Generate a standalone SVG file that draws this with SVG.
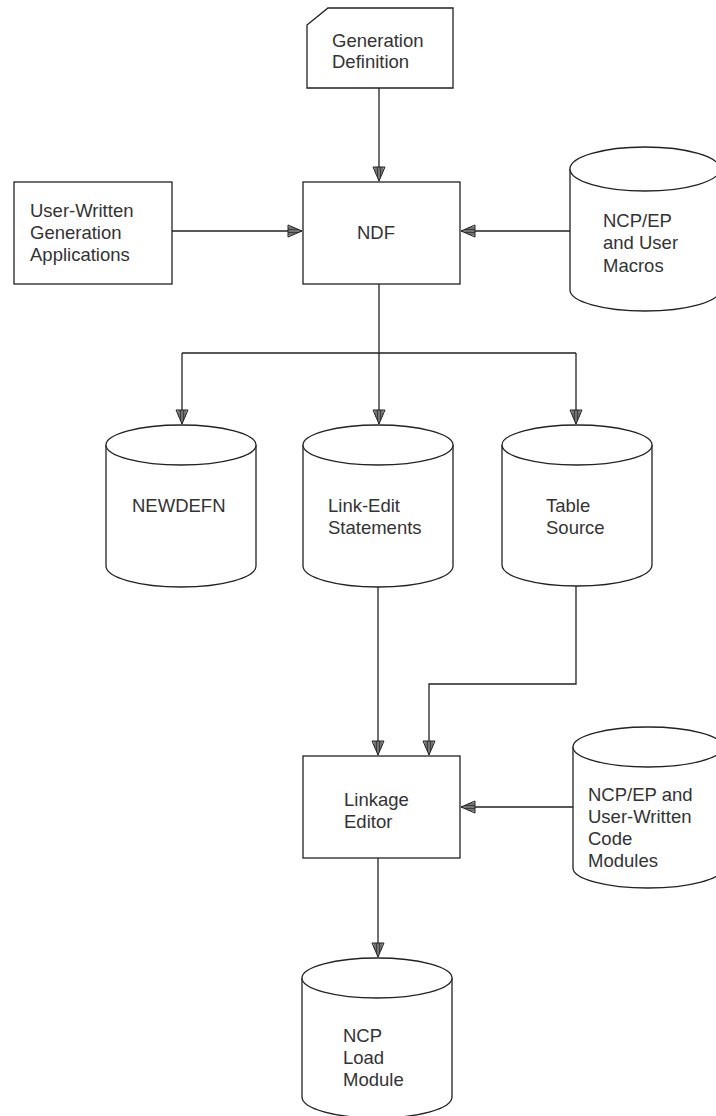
<svg xmlns="http://www.w3.org/2000/svg" width="716" height="1116" viewBox="0 0 716 1116">
<style>
.shape{fill:#fff;stroke:#222;stroke-width:1.3}
.conn{fill:none;stroke:#222;stroke-width:1.3}
text{font-family:"Liberation Sans",Arial,sans-serif;font-size:18.5px;fill:#333}
</style>
<defs>
<marker id="arr" markerUnits="userSpaceOnUse" markerWidth="16" markerHeight="14" viewBox="-1 -1 16 14" refX="14" refY="6" orient="auto">
<path d="M0,0 L14,6 L0,12 Z" fill="#aaa" stroke="#222" stroke-width="1"/>
<path d="M0,3 H7 M0,6 H13 M0,9 H7 M0,4.5 H10.5 M0,7.5 H10.5" stroke="#222" stroke-width="0.8"/>
</marker>
</defs>
<rect width="716" height="1116" fill="#fff"/>
<g id="connectors">
<path class="conn" d="M379,88 V181" marker-end="url(#arr)"/>
<path class="conn" d="M172,231 H302" marker-end="url(#arr)"/>
<path class="conn" d="M570,231 H461" marker-end="url(#arr)"/>
<path class="conn" d="M379,284 V353 M182,353 H576"/>
<path class="conn" d="M182,353 V424" marker-end="url(#arr)"/>
<path class="conn" d="M379,353 V424" marker-end="url(#arr)"/>
<path class="conn" d="M576,353 V424" marker-end="url(#arr)"/>
<path class="conn" d="M378,587 V755" marker-end="url(#arr)"/>
<path class="conn" d="M576,586 V684 H429 V755" marker-end="url(#arr)"/>
<path class="conn" d="M573,807 H461" marker-end="url(#arr)"/>
<path class="conn" d="M378,858 V957" marker-end="url(#arr)"/>
</g>
<g id="generation-definition">
<path class="shape" d="M307,25 L328,8 H453 V88 H307 Z"/>
<text x="332" y="47">Generation</text>
<text x="332" y="68">Definition</text>
</g>
<g id="user-written-apps">
<rect class="shape" x="14" y="182" width="158" height="102"/>
<text x="30" y="217">User-Written</text>
<text x="30" y="239">Generation</text>
<text x="30" y="261">Applications</text>
</g>
<g id="ndf">
<rect class="shape" x="303" y="182" width="157" height="102"/>
<text x="357" y="239">NDF</text>
</g>
<g id="ncp-ep-macros">
<path class="shape" d="M570,169 V290 A75,21 0 0 0 720,290 V169"/>
<ellipse class="shape" cx="645" cy="169" rx="75" ry="22"/>
<text x="603" y="227">NCP/EP</text>
<text x="603" y="249">and User</text>
<text x="603" y="272">Macros</text>
</g>
<g id="newdefn">
<path class="shape" d="M106,445 V566 A75,21 0 0 0 256,566 V445"/>
<ellipse class="shape" cx="181" cy="445" rx="75" ry="20"/>
<text x="132" y="512">NEWDEFN</text>
</g>
<g id="link-edit-statements">
<path class="shape" d="M303,445 V566 A75,21 0 0 0 453,566 V445"/>
<ellipse class="shape" cx="378" cy="445" rx="75" ry="20"/>
<text x="328" y="512">Link-Edit</text>
<text x="328" y="534">Statements</text>
</g>
<g id="table-source">
<path class="shape" d="M502,445 V565 A75,21 0 0 0 652,565 V445"/>
<ellipse class="shape" cx="577" cy="445" rx="75" ry="20"/>
<text x="546" y="512">Table</text>
<text x="546" y="534">Source</text>
</g>
<g id="linkage-editor">
<rect class="shape" x="303" y="756" width="157" height="102"/>
<text x="344" y="806">Linkage</text>
<text x="344" y="828">Editor</text>
</g>
<g id="ncp-ep-code-modules">
<path class="shape" d="M573,747 V868 A75,20 0 0 0 723,868 V747"/>
<ellipse class="shape" cx="648" cy="747" rx="75" ry="20"/>
<text x="588" y="801">NCP/EP and</text>
<text x="588" y="823">User-Written</text>
<text x="588" y="845">Code</text>
<text x="588" y="867">Modules</text>
</g>
<g id="ncp-load-module">
<path class="shape" d="M302,978 V1097 A75,21 0 0 0 452,1097 V978"/>
<ellipse class="shape" cx="377" cy="978" rx="75" ry="20"/>
<text x="343" y="1042">NCP</text>
<text x="343" y="1064">Load</text>
<text x="343" y="1086">Module</text>
</g>
</svg>
